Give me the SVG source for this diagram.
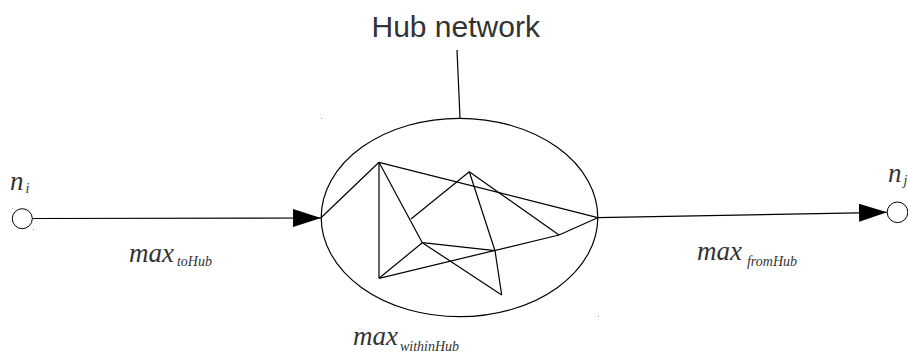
<svg xmlns="http://www.w3.org/2000/svg" width="908" height="360" viewBox="0 0 908 360">
<style>
.ln{stroke:#000;stroke-width:1.2;fill:none}
.nd{stroke:#000;stroke-width:1;fill:#fff}
.it{font-family:"Liberation Serif",serif;font-style:italic;fill:#333}
.big{font-size:27px}
.sub{font-size:14px}
.ttl{font-family:"Liberation Sans",Arial,sans-serif;font-size:30px;fill:#333}
.dot{fill:#999}
</style>
<defs>
<marker id="ah" viewBox="0 0 28 18" refX="28" refY="9" markerWidth="28" markerHeight="18" markerUnits="userSpaceOnUse" orient="auto">
<path d="M0,0 L28,9 L0,18 Z" fill="#000"/>
</marker>
</defs>
<g id="connectors">
<line class="ln" x1="32.5" y1="218.5" x2="321" y2="218" marker-end="url(#ah)"/>
<line class="ln" x1="597.7" y1="217.7" x2="887" y2="212.3" marker-end="url(#ah)"/>
<line class="ln" x1="457" y1="50" x2="460" y2="118.3" stroke-width="1"/>
</g>
<g id="hub">
<ellipse class="ln" cx="459.5" cy="217.5" rx="138.3" ry="99.2" stroke-width="1"/>
<g class="ln" stroke-width="1.1">
<line x1="321" y1="217.7" x2="379" y2="162.3"/>
<line x1="379" y1="162.3" x2="597.7" y2="217.7"/>
<line x1="379" y1="162.3" x2="379" y2="278.3"/>
<line x1="379" y1="162.3" x2="422.3" y2="242.7"/>
<line x1="469.3" y1="171.7" x2="411" y2="219"/>
<line x1="469.3" y1="171.7" x2="559" y2="235"/>
<line x1="469.3" y1="171.7" x2="495" y2="250.7"/>
<line x1="495" y1="250.7" x2="501.7" y2="295"/>
<line x1="422.3" y1="242.7" x2="495" y2="250.7"/>
<line x1="422.3" y1="242.7" x2="501.7" y2="295"/>
<line x1="379" y1="278.3" x2="422.3" y2="242.7"/>
<line x1="379" y1="278.3" x2="559" y2="235"/>
<line x1="559" y1="235" x2="597.7" y2="217.7"/>
</g>
</g>
<g id="title">
<text class="ttl" x="371.5" y="36.7">Hub network</text>
</g>
<g id="ni">
<circle class="nd" cx="22.3" cy="218.7" r="10"/>
<text class="it big" x="10" y="190">n<tspan class="sub" dx="2" dy="3">i</tspan></text>
</g>
<g id="nj">
<circle class="nd" cx="897.5" cy="212.3" r="10.3"/>
<text class="it big" x="888" y="182">n<tspan class="sub" dx="2" dy="3">j</tspan></text>
</g>
<g id="labels">
<text class="it big" x="129" y="262">max<tspan class="sub" dx="3" dy="4">toHub</tspan></text>
<text class="it big" x="697" y="260">max<tspan class="sub" dx="5" dy="6">fromHub</tspan></text>
<text class="it big" x="353" y="345">max<tspan class="sub" dx="2" dy="6">withinHub</tspan></text>
</g>
<g id="artifacts">
<rect class="dot" x="321" y="118" width="1" height="1"/>
<rect class="dot" x="598" y="316" width="1" height="1"/>
<rect class="dot" x="12" y="208" width="1" height="1"/>
<rect class="dot" x="33" y="229" width="1" height="1"/>
</g>
</svg>
